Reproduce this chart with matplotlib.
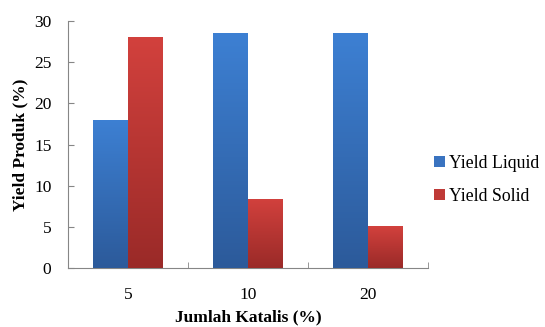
import matplotlib.pyplot as plt
import numpy as np
from matplotlib.colors import LinearSegmentedColormap
from matplotlib.patches import Patch

plt.rcParams['font.family'] = ['Liberation Serif', 'DejaVu Serif']

# data
katalis = ['5', '10', '20']
yield_liquid = [18.0, 28.5, 28.5]
yield_solid = [28.0, 8.4, 5.1]

fig = plt.figure(figsize=(5.45, 3.27), dpi=100)
ax = fig.add_axes([0.1248, 0.1804, 0.6605, 0.7554])

x = np.arange(len(katalis))
w = 0.29

blue_map = LinearSegmentedColormap.from_list('b', ['#2c5a9a', '#3d80d3'])
red_map = LinearSegmentedColormap.from_list('r', ['#9a2a28', '#d2413d'])

bars_l = ax.bar(x - w / 2, yield_liquid, w, color='#3a73c0', zorder=2)
bars_s = ax.bar(x + w / 2, yield_solid, w, color='#bf3a37', zorder=2)

# vertical gradient fill like the original
grad = np.linspace(0, 1, 256).reshape(-1, 1)
for bars, cmap in [(bars_l, blue_map), (bars_s, red_map)]:
    for b in bars:
        x0, y0 = b.get_x(), b.get_y()
        x1, y1 = x0 + b.get_width(), y0 + b.get_height()
        im = ax.imshow(grad, cmap=cmap, origin='lower', aspect='auto',
                       extent=[x0, x1, y0, y1], zorder=3)
        im.set_clip_path(b)

ax.set_xlim(-0.5, 2.5)
ax.set_ylim(0, 30)
ax.set_yticks(range(0, 31, 5))
ax.set_xticks(x)
ax.set_xticklabels(katalis)
ax.set_xticks([-0.5, 0.5, 1.5, 2.5], minor=True)
ax.tick_params(axis='x', which='major', length=0, pad=14, labelsize=12.5)
ax.tick_params(axis='x', which='minor', direction='in', length=4, color='#868686')
ax.tick_params(axis='y', direction='in', length=4, color='#868686', pad=12, labelsize=12.5)

for side in ['top', 'right']:
    ax.spines[side].set_visible(False)
for side in ['left', 'bottom']:
    ax.spines[side].set_color('#868686')

ax.set_xlabel('Jumlah Katalis (%)', fontsize=12.5, fontweight='bold', labelpad=4)
ax.set_ylabel('Yield Produk (%)', fontsize=12.5, fontweight='bold', labelpad=4)

handles = [Patch(facecolor='#3a73c0', label='Yield Liquid'),
           Patch(facecolor='#bf3a37', label='Yield Solid')]
fig.legend(handles=handles, loc='center left', bbox_to_anchor=(0.797, 0.45),
           frameon=False, fontsize=12.8, handlelength=0.6, handleheight=0.6,
           handletextpad=0.2, labelspacing=0.9, borderaxespad=0, borderpad=0)

fig.savefig('out.png', dpi=100)
